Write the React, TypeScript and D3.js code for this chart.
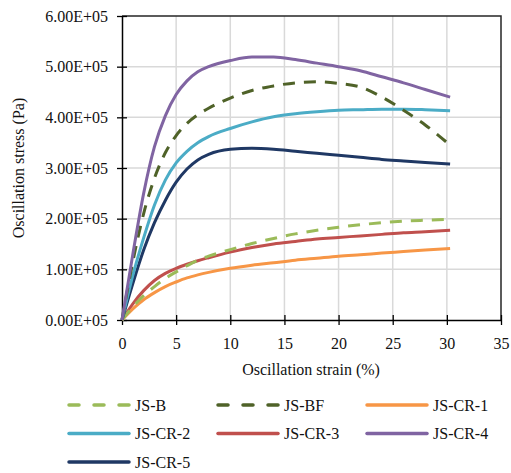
import React, { useEffect, useRef } from 'react';
import * as d3 from 'd3';

// strain (%) sample points
const strain = [0, 1, 2, 3, 4, 5, 6, 7, 8, 10, 12, 14, 16, 18, 20, 22, 24, 26, 28, 30.3];

// stress values in 1e5 Pa
const jsB = [0, 0.26, 0.48, 0.66, 0.82, 0.95, 1.07, 1.18, 1.26, 1.39, 1.51, 1.61, 1.7, 1.77, 1.83, 1.88, 1.92, 1.95, 1.97, 1.99];
const jsBF = [0, 1.15, 2.1, 2.8, 3.3, 3.64, 3.88, 4.05, 4.18, 4.38, 4.53, 4.62, 4.68, 4.7, 4.67, 4.6, 4.4, 4.14, 3.85, 3.45];
const jsCR1 = [0, 0.22, 0.4, 0.54, 0.66, 0.75, 0.83, 0.89, 0.94, 1.02, 1.08, 1.13, 1.18, 1.22, 1.26, 1.29, 1.32, 1.35, 1.38, 1.41];
const jsCR2 = [0, 0.88, 1.62, 2.27, 2.76, 3.1, 3.33, 3.5, 3.62, 3.78, 3.91, 4.01, 4.07, 4.11, 4.14, 4.15, 4.16, 4.16, 4.15, 4.13];
const jsCR3 = [0, 0.32, 0.58, 0.78, 0.92, 1.02, 1.1, 1.17, 1.23, 1.34, 1.43, 1.5, 1.55, 1.6, 1.63, 1.66, 1.69, 1.72, 1.74, 1.77];
const jsCR4 = [0, 1.3, 2.5, 3.42, 4.03, 4.45, 4.72, 4.9, 5.0, 5.12, 5.19, 5.19, 5.14, 5.07, 5.0, 4.92, 4.8, 4.68, 4.55, 4.4];
const jsCR5 = [0, 0.72, 1.38, 1.92, 2.36, 2.72, 2.98, 3.16, 3.27, 3.37, 3.39, 3.37, 3.33, 3.29, 3.25, 3.21, 3.17, 3.14, 3.11, 3.08];

const seriesNames = ['JS-B', 'JS-BF', 'JS-CR-1', 'JS-CR-2', 'JS-CR-3', 'JS-CR-4', 'JS-CR-5'];
const seriesValues = [jsB, jsBF, jsCR1, jsCR2, jsCR3, jsCR4, jsCR5];
const seriesColors = ['#9BBB59', '#4F6228', '#F79646', '#4BACC6', '#C0504D', '#8064A2', '#1F3864'];
const seriesDashed = [true, true, false, false, false, false, false];

const xTicks = [0, 5, 10, 15, 20, 25, 30, 35];
const yTicks = [0, 1, 2, 3, 4, 5, 6];

const FONT = "'Liberation Serif', 'DejaVu Serif', 'Noto Serif', 'Times New Roman', serif";

const App = () => {
  const ref = useRef<SVGSVGElement>(null);

  useEffect(() => {
    const svg = d3.select(ref.current);
    svg.selectAll('*').remove();

    const left = 122, right = 501, top = 16, bottom = 320;

    const x = d3.scaleLinear().domain([0, 35]).range([left, right]);
    const y = d3.scaleLinear().domain([0, 6]).range([bottom, top]);

    // gridlines
    svg.append('g')
      .selectAll('line')
      .data(xTicks.slice(1, -1))
      .enter()
      .append('line')
      .attr('x1', (d) => x(d)).attr('x2', (d) => x(d))
      .attr('y1', top).attr('y2', bottom)
      .attr('stroke', '#d9d9d9').attr('stroke-width', 1.5);
    svg.append('g')
      .selectAll('line')
      .data(yTicks.slice(1, -1))
      .enter()
      .append('line')
      .attr('x1', left).attr('x2', right)
      .attr('y1', (d) => y(d)).attr('y2', (d) => y(d))
      .attr('stroke', '#d9d9d9').attr('stroke-width', 1.5);

    // frame
    svg.append('path')
      .attr('d', `M${left},${top}H${right}V${bottom}`)
      .attr('fill', 'none').attr('stroke', '#262626').attr('stroke-width', 1.5);

    // axes
    const xAxis = svg.append('g').attr('transform', `translate(0,${bottom})`)
      .call(d3.axisBottom(x).tickValues(xTicks).tickSizeInner(5).tickSizeOuter(0).tickPadding(13).tickFormat(d3.format('d')));
    xAxis.selectAll('.tick line').attr('y1', -5).attr('y2', 5);
    const yAxis = svg.append('g').attr('transform', `translate(${left},0)`)
      .call(d3.axisLeft(y).tickValues(yTicks).tickSizeInner(5).tickSizeOuter(0).tickPadding(9)
        .tickFormat((d) => (d as number).toFixed(2) + 'E+05'));
    yAxis.selectAll('.tick line').attr('x1', -5).attr('x2', 5);
    [xAxis, yAxis].forEach((g) => {
      g.attr('font-family', null).attr('font-size', null);
      g.select('.domain').attr('stroke', '#000').attr('stroke-width', 1.5);
      g.selectAll('.tick line').attr('stroke', '#000').attr('stroke-width', 1.3);
      g.selectAll('text').attr('font-family', FONT).attr('font-size', 16).attr('fill', '#111');
    });

    // lines
    const line = d3.line<number>()
      .x((d, i) => x(strain[i]))
      .y((d) => y(d))
      .curve(d3.curveMonotoneX);

    const order = [4, 2, 0, 6, 3, 1, 5];
    order.forEach((k) => {
      svg.append('path')
        .datum(seriesValues[k])
        .attr('d', line)
        .attr('fill', 'none')
        .attr('stroke', seriesColors[k])
        .attr('stroke-width', 3)
        .attr('stroke-dasharray', seriesDashed[k] ? '12,9' : null);
    });

    // axis titles
    svg.append('text')
      .attr('x', 311).attr('y', 375)
      .attr('text-anchor', 'middle')
      .attr('font-family', FONT).attr('font-size', 16).attr('fill', '#111')
      .text('Oscillation strain (%)');
    svg.append('text')
      .attr('transform', 'translate(24,168) rotate(-90)')
      .attr('text-anchor', 'middle')
      .attr('font-family', FONT).attr('font-size', 16).attr('fill', '#111')
      .text('Oscillation stress (Pa)');

    // legend
    const legend = svg.append('g')
      .selectAll('g')
      .data(seriesNames)
      .enter()
      .append('g')
      .attr('transform', (d, i) => `translate(${69 + (i % 3) * 149},${405 + Math.floor(i / 3) * 28.5})`);
    legend.append('line')
      .attr('x1', 0).attr('x2', 60).attr('y1', 0).attr('y2', 0)
      .attr('stroke', (d, i) => seriesColors[i])
      .attr('stroke-width', 3.5)
      .attr('stroke-linecap', 'round')
      .attr('stroke-dasharray', (d, i) => (seriesDashed[i] ? '10,15' : null));
    legend.append('text')
      .attr('x', 66).attr('y', 5.5)
      .attr('font-family', FONT).attr('font-size', 16).attr('fill', '#111')
      .text((d) => d);
  }, []);

  return (
    <div>
      <svg ref={ref} width={511} height={473}
        style={{ position: 'absolute', left: 0, top: 0, display: 'block' }}></svg>
    </div>
  );
};

export default App;
